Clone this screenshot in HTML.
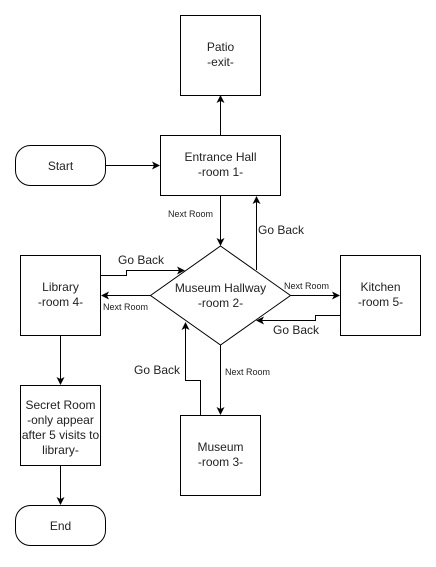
<!DOCTYPE html>
<html><head><style>body{margin:0;background:#fff}svg text{font-family:"Liberation Sans",sans-serif;fill:#222}</style></head>
<body>
<svg width="436" height="562" viewBox="0 0 436 562" xmlns="http://www.w3.org/2000/svg">
<defs><marker id="a" markerWidth="8" markerHeight="8" refX="7" refY="4" orient="auto" markerUnits="userSpaceOnUse"><path d="M0,0 L8,4 L0,8 L2,4 Z" fill="#000"/></marker></defs>
<g fill="#fff" stroke="#000" stroke-width="1">
<rect x="180.5" y="15.5" width="80" height="80"/>
<rect x="160.5" y="135.5" width="120" height="60"/>
<rect x="15.5" y="145.5" width="90" height="40" rx="15"/>
<rect x="20.5" y="255.5" width="80" height="80"/>
<rect x="340.5" y="255.5" width="80" height="80"/>
<polygon points="220.5,246 290.5,295.5 220.5,345 150.5,295.5"/>
<rect x="180.5" y="415.5" width="80" height="80"/>
<rect x="20.5" y="385.5" width="80" height="80"/>
<rect x="15.5" y="505.5" width="90" height="40" rx="15"/>
</g>
<g fill="none" stroke="#000" stroke-width="1" marker-end="url(#a)">
<path d="M220.5,135 V96"/>
<path d="M105.5,165.5 H159"/>
<path d="M220.5,195 V245"/>
<path d="M256.5,270 V197"/>
<path d="M100.5,275.5 H126.5 V270.5 H184"/>
<path d="M150.5,295.5 H102"/>
<path d="M290.5,295.5 H339"/>
<path d="M340.5,315.5 H315.5 V320.5 H257"/>
<path d="M220.5,345 V414"/>
<path d="M200.5,415 V380.5 H185.5 V323"/>
<path d="M60.5,335 V384"/>
<path d="M60.5,465 V504"/>
</g>
<g font-size="12" text-anchor="middle">
<text x="220.5" y="51">Patio</text><text x="220.5" y="66">-exit-</text>
<text x="220.5" y="161">Entrance Hall</text><text x="220.5" y="176">-room 1-</text>
<text x="60.5" y="170">Start</text>
<text x="60.5" y="291">Library</text><text x="60.5" y="306">-room 4-</text>
<text x="380.5" y="291">Kitchen</text><text x="380.5" y="306">-room 5-</text>
<text x="220.5" y="292">Museum Hallway</text><text x="220.5" y="307">-room 2-</text>
<text x="220.5" y="451">Museum</text><text x="220.5" y="466">-room 3-</text>
<text x="60.5" y="409">Secret Room</text><text x="60.5" y="424">-only appear</text><text x="60.5" y="439">after 5 visits to</text><text x="60.5" y="454">library-</text>
<text x="60.5" y="530">End</text>
</g>
<g font-size="12">
<text x="258" y="234">Go Back</text>
<text x="118" y="264">Go Back</text>
<text x="273" y="334">Go Back</text>
<text x="134" y="374">Go Back</text>
</g>
<g font-size="9">
<text x="168" y="217">Next Room</text>
<text x="103" y="310">Next Room</text>
<text x="284" y="289">Next Room</text>
<text x="225" y="375">Next Room</text>
</g>
</svg>
</body></html>
